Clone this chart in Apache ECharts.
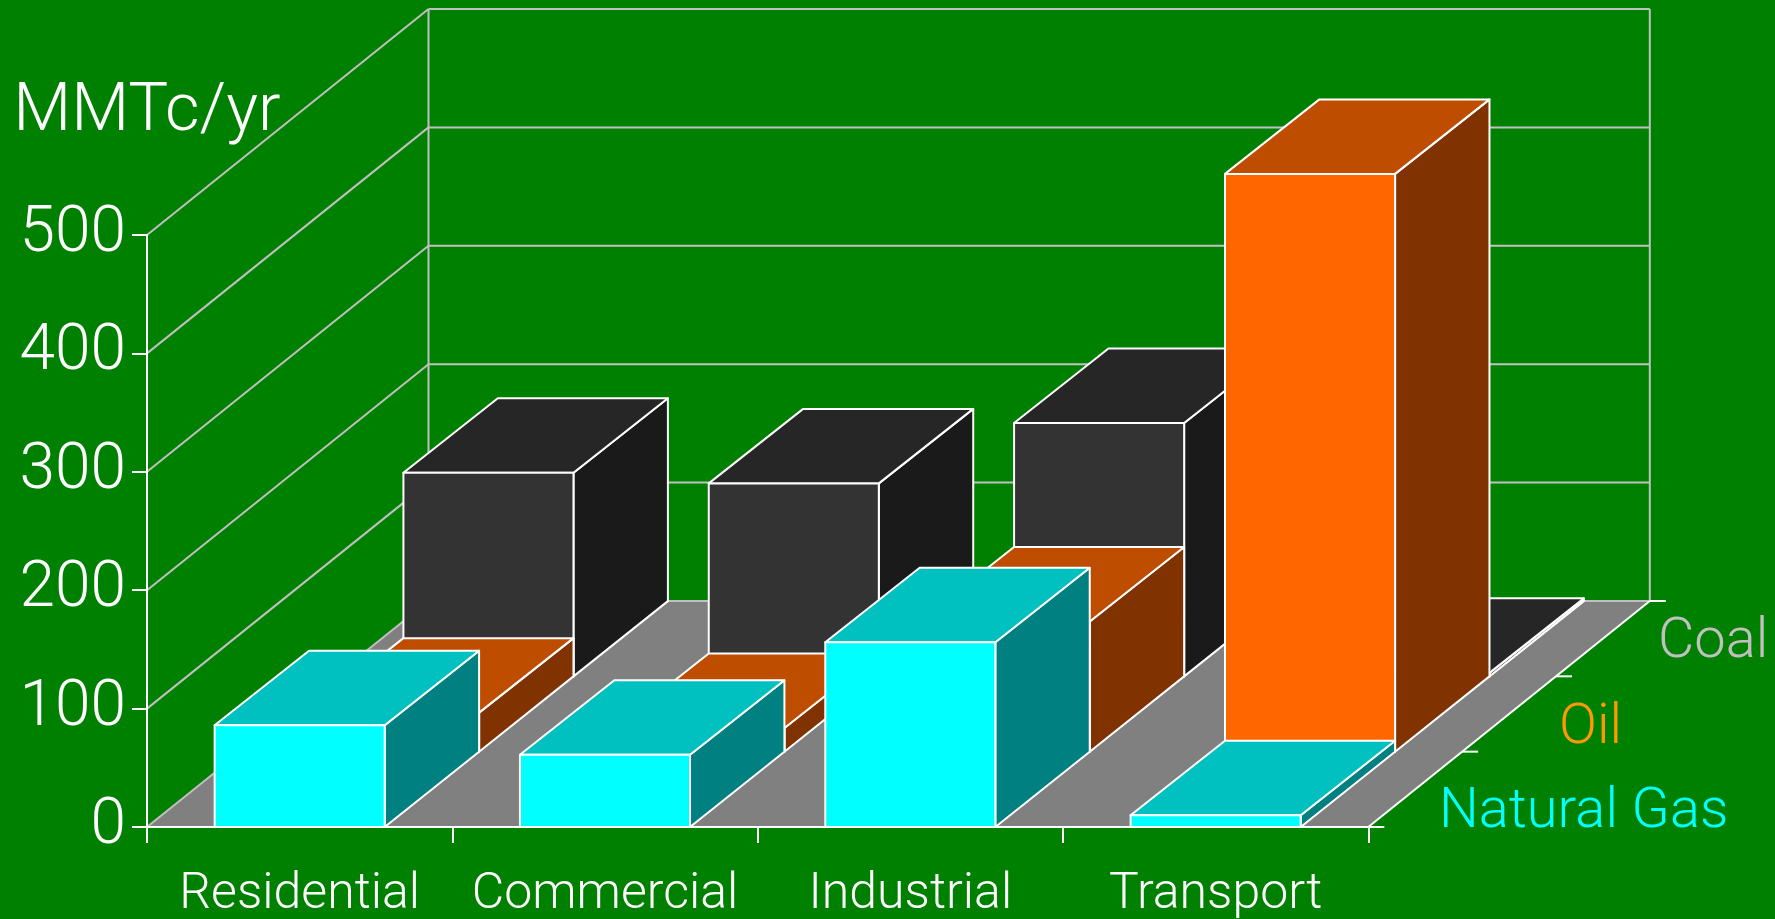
<!DOCTYPE html>
<html>
<head>
<meta charset="utf-8">
<style>html,body{margin:0;padding:0;background:#008000}#chart{width:1775px;height:919px}</style>
<script src="https://cdn.jsdelivr.net/npm/echarts@6/dist/echarts.min.js"></script>
</head>
<body>
<div id="chart"></div>
<script>
// Carbon emissions by sector and fuel
const sectors = ['Residential', 'Commercial', 'Industrial', 'Transport'];
const naturalGas = [86, 61, 156, 10];
const oil = [33, 20, 110, 488];
const coal = [172, 163, 214, 3];
const yTicks = [0, 100, 200, 300, 400, 500];
const unitLabel = 'MMTc/yr';

// Oblique projection of the depth axis, in pixels
const ROW_X = 94.4, ROW_Y = 75.3, TOP_Y = 74.5;
const ROOM_X = 281.5, ROOM_Y = 226;
const BAR_SHARE = 0.557;
const TEXT_FONT = 'Roboto';
const WALL = '#c0c0c0', WHITE = '#ffffff';

function seg(x1, y1, x2, y2, stroke, lineWidth) {
  return { type: 'line', silent: true, shape: { x1, y1, x2, y2 },
    style: { stroke, lineWidth: lineWidth || 2, fill: null } };
}

// Gridlines on the back and left walls
function renderWallLine(params, api) {
  const p = api.coord([0, api.value(0)]);
  const cs = params.coordSys;
  const x0 = cs.x, y = p[1];
  const bx = x0 + ROOM_X, by = y - ROOM_Y;
  return { type: 'group', children: [
    seg(x0, y, bx, by, WALL),
    seg(bx, by, bx + cs.width, by, WALL)
  ] };
}

// Floor, wall corners and depth-axis ticks
function renderRoom(params, api) {
  const cs = params.coordSys;
  const fl = cs.x, fr = cs.x + cs.width, fb = cs.y + cs.height;
  const top = cs.y - ROOM_Y;
  const children = [
    { type: 'polygon', silent: true,
      shape: { points: [[fl, fb], [fr, fb], [fr + ROOM_X, fb - ROOM_Y], [fl + ROOM_X, fb - ROOM_Y]] },
      style: { fill: '#808080' } },
    seg(fl + ROOM_X, top, fl + ROOM_X, fb - ROOM_Y, WALL),
    seg(fr + ROOM_X, top, fr + ROOM_X, fb - ROOM_Y, WALL),
    seg(fl, fb, fl + ROOM_X, fb - ROOM_Y, WALL),
    seg(fl + ROOM_X, fb - ROOM_Y, fr + ROOM_X, fb - ROOM_Y, WALL),
    seg(fr, fb, fr + ROOM_X, fb - ROOM_Y, WHITE)
  ];
  for (let k = 0; k <= 3; k++) {
    const tx = fr + ROOM_X * k / 3, ty = fb - ROOM_Y * k / 3;
    children.push(seg(tx, ty, tx + 16, ty, WHITE));
  }
  return { type: 'group', children };
}

// One fuel row of oblique boxes; the row index sets how far back it sits
function barRenderer(row, faces) {
  return function (params, api) {
    const base = api.coord([api.value(0), 0]);
    const tip = api.coord([api.value(0), api.value(1)]);
    const half = api.size([1, 0])[0] * BAR_SHARE / 2;
    const ox = row * ROW_X, oy = row * ROW_Y;
    const l = base[0] - half + ox, r = base[0] + half + ox;
    const b = base[1] - oy, t = tip[1] - oy;
    const style = fill => ({ fill, stroke: WHITE, lineWidth: 2, lineJoin: 'round' });
    return { type: 'group', children: [
      { type: 'polygon', silent: true, shape: { points: [[r, t], [r + ROW_X, t - TOP_Y], [r + ROW_X, b - ROW_Y], [r, b]] }, style: style(faces.side) },
      { type: 'polygon', silent: true, shape: { points: [[l, t], [l + ROW_X, t - TOP_Y], [r + ROW_X, t - TOP_Y], [r, t]] }, style: style(faces.top) },
      { type: 'polygon', silent: true, shape: { points: [[l, t], [r, t], [r, b], [l, b]] }, style: style(faces.front) }
    ] };
  };
}

function fuelSeries(name, values, row, faces) {
  return {
    type: 'custom', name, coordinateSystem: 'cartesian2d', silent: true,
    clip: false, animation: false,
    renderItem: barRenderer(row, faces),
    data: values.map((v, i) => [i, v]),
    encode: { x: 0, y: 1 }
  };
}

const chart = echarts.init(document.getElementById('chart'), null, { renderer: 'canvas' });
chart.setOption({
  animation: false,
  backgroundColor: '#008000',
  tooltip: { show: false },
  grid: { left: 147, top: 235, width: 1221.3, height: 592, containLabel: false, outerBoundsMode: 'none' },
  xAxis: {
    type: 'category', data: sectors, z: 10,
    axisLine: { lineStyle: { color: WHITE, width: 2 } },
    axisTick: { show: true, length: 16, lineStyle: { color: WHITE, width: 2 } },
    axisLabel: { color: WHITE, fontFamily: TEXT_FONT, fontWeight: 300, fontSize: 50, margin: 43, interval: 0 }
  },
  yAxis: {
    type: 'value', min: 0, max: 500, interval: 100, z: 10,
    name: unitLabel, nameLocation: 'end', nameGap: 88,
    nameTextStyle: { color: WHITE, fontFamily: TEXT_FONT, fontWeight: 300, fontSize: 67, align: 'center', verticalAlign: 'bottom' },
    splitLine: { show: false },
    axisLine: { show: true, lineStyle: { color: WHITE, width: 2 } },
    axisTick: { show: true, length: 15, lineStyle: { color: WHITE, width: 2 } },
    axisLabel: { color: WHITE, fontFamily: TEXT_FONT, fontWeight: 300, fontSize: 64, margin: 21, padding: [4, 0, 0, 0],
      formatter: v => (yTicks.includes(v) ? String(v) : '') }
  },
  graphic: [
    { type: 'text', silent: true, x: 1658, y: 643, style: { text: 'Coal', fill: '#c0c0c0', font: '300 56px Roboto', textVerticalAlign: 'middle' } },
    { type: 'text', silent: true, x: 1559, y: 729, style: { text: 'Oil', fill: '#ff9900', font: '300 56px Roboto', textVerticalAlign: 'middle' } },
    { type: 'text', silent: true, x: 1439, y: 813, style: { text: 'Natural Gas', fill: '#00ffff', font: '300 56px Roboto', textVerticalAlign: 'middle' } }
  ],
  series: [
    { type: 'custom', name: 'Gridlines', coordinateSystem: 'cartesian2d', silent: true, clip: false, animation: false,
      renderItem: renderWallLine, data: yTicks.slice(1).map(v => [v]), encode: { y: 0 } },
    { type: 'custom', name: 'Room', coordinateSystem: 'cartesian2d', silent: true, clip: false, animation: false,
      renderItem: renderRoom, data: [[0, 0]], encode: { x: 0, y: 1 } },
    fuelSeries('Coal', coal, 2, { front: '#333333', top: '#262626', side: '#1a1a1a' }),
    fuelSeries('Oil', oil, 1, { front: '#ff6600', top: '#bf4d00', side: '#803300' }),
    fuelSeries('Natural Gas', naturalGas, 0, { front: '#00ffff', top: '#00c0c0', side: '#008080' })
  ]
});
</script>
</body>
</html>
